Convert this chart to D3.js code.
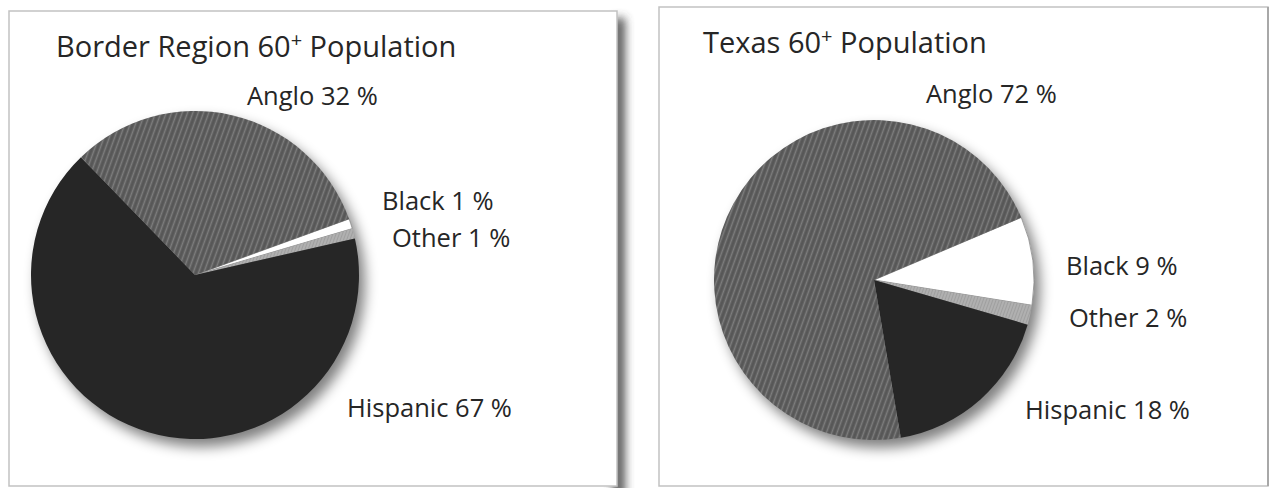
<!DOCTYPE html>
<html>
<head>
<meta charset="utf-8">
<script src="https://cdn.jsdelivr.net/npm/d3@7"></script>
<style>
  html, body { margin: 0; padding: 0; background: #fff; }
  svg { display: block; }
  text { font-family: "Open Sans", "Noto Sans", sans-serif; fill: #262626; }
</style>
</head>
<body>
<svg id="chart" width="1271" height="488"></svg>
<script>
// Population 60+ by group, percent (clockwise order starting from Black)
const groups = ["Black", "Other", "Hispanic", "Anglo"];
const borderRegionValues = [1, 1, 67, 32];
const texasValues = [9, 2, 18, 72];
const chartTitles = ["Border Region 60", "Texas 60"];
const titleSuffix = " Population";

const svg = d3.select("#chart");
const defs = svg.append("defs");

// Diagonal hatch used for the Anglo slices
const hatch = defs.append("pattern")
  .attr("id", "hatch")
  .attr("patternUnits", "userSpaceOnUse")
  .attr("width", 5).attr("height", 5)
  .attr("patternTransform", "rotate(20)");
hatch.append("rect").attr("width", 5).attr("height", 5).attr("fill", "#575757");
hatch.append("line").attr("x1", 2.5).attr("y1", 0).attr("x2", 2.5).attr("y2", 5)
  .attr("stroke", "#7d7d7d").attr("stroke-width", 1.6);

// Fine texture for the small "Other" slices
const dots = defs.append("pattern")
  .attr("id", "dots")
  .attr("patternUnits", "userSpaceOnUse")
  .attr("width", 3).attr("height", 3)
  .attr("patternTransform", "rotate(20)");
dots.append("rect").attr("width", 3).attr("height", 3).attr("fill", "#b0b0b0");
dots.append("line").attr("x1", 1.5).attr("y1", 0).attr("x2", 1.5).attr("y2", 3)
  .attr("stroke", "#9a9a9a").attr("stroke-width", 0.8);

// Soft blur filters for pie and panel shadows
defs.append("filter").attr("id", "pieShadow")
  .attr("x", "-20%").attr("y", "-20%").attr("width", "140%").attr("height", "140%")
  .append("feGaussianBlur").attr("stdDeviation", 6.5);
defs.append("filter").attr("id", "panelShadow")
  .attr("x", "-200%").attr("y", "-5%").attr("width", "500%").attr("height", "110%")
  .append("feGaussianBlur").attr("stdDeviation", 5);

const fills = d3.scaleOrdinal()
  .domain(groups)
  .range(["#ffffff", "url(#dots)", "#262626", "url(#hatch)"]);

const panels = [
  {
    values: borderRegionValues, title: chartTitles[0],
    box: { x: 9, y: 11, w: 608, h: 475 },
    cx: 195, cy: 275, r: 164, start: 70,
    titlePos: [56, 57],
    labelPos: { Anglo: [247, 105], Black: [382, 210], Other: [392, 247], Hispanic: [347, 417] }
  },
  {
    values: texasValues, title: chartTitles[1],
    box: { x: 659, y: 7, w: 609, h: 479 },
    cx: 874, cy: 280, r: 160, start: 67,
    titlePos: [703, 53],
    labelPos: { Anglo: [926, 103], Black: [1066, 275], Other: [1069, 327], Hispanic: [1025, 419] }
  }
];

// Shadow along the right side of the first panel
svg.append("rect")
  .attr("x", 613).attr("y", 18).attr("width", 12).attr("height", 490)
  .attr("fill", "#444").attr("opacity", 0.9)
  .attr("filter", "url(#panelShadow)");

panels.forEach(p => {
  const g = svg.append("g");

  // Panel frame
  g.append("rect")
    .attr("x", p.box.x).attr("y", p.box.y)
    .attr("width", p.box.w).attr("height", p.box.h)
    .attr("fill", "#fff").attr("stroke", "#c2c2c2").attr("stroke-width", 1.5);

  // Title with superscript plus sign
  const t = g.append("text")
    .attr("x", p.titlePos[0]).attr("y", p.titlePos[1])
    .attr("font-size", 29);
  t.append("tspan").text(p.title);
  t.append("tspan").attr("font-size", 20).attr("dy", -10).text("+");
  t.append("tspan").attr("dy", 10).text(titleSuffix);

  const data = groups.map((k, i) => ({ key: k, value: p.values[i] }));
  const a0 = p.start * Math.PI / 180;
  const pie = d3.pie().sort(null).value(d => d.value)
    .startAngle(a0).endAngle(a0 + 2 * Math.PI);
  const arc = d3.arc().innerRadius(0).outerRadius(p.r);

  const pg = g.append("g").attr("transform", `translate(${p.cx},${p.cy})`);

  // Drop shadow beneath the pie
  pg.append("circle")
    .attr("cx", 6).attr("cy", 8).attr("r", p.r)
    .attr("fill", "#000").attr("opacity", 0.5)
    .attr("filter", "url(#pieShadow)");

  pg.selectAll("path.slice")
    .data(pie(data))
    .join("path")
    .attr("class", "slice")
    .attr("d", arc)
    .attr("fill", d => fills(d.data.key))
    .attr("stroke", d => d.data.key === "Black" ? "#8a8a8a" : "none")
    .attr("stroke-width", 0.8);

  // Slice labels
  data.forEach(d => {
    const [lx, ly] = p.labelPos[d.key];
    g.append("text")
      .attr("x", lx).attr("y", ly)
      .attr("font-size", 25.5)
      .text(`${d.key} ${d.value} %`);
  });
});

// Darker right edge of the second panel
svg.append("line")
  .attr("x1", 1268).attr("y1", 7).attr("x2", 1268).attr("y2", 486)
  .attr("stroke", "#a8a8a8").attr("stroke-width", 2);
</script>
</body>
</html>
